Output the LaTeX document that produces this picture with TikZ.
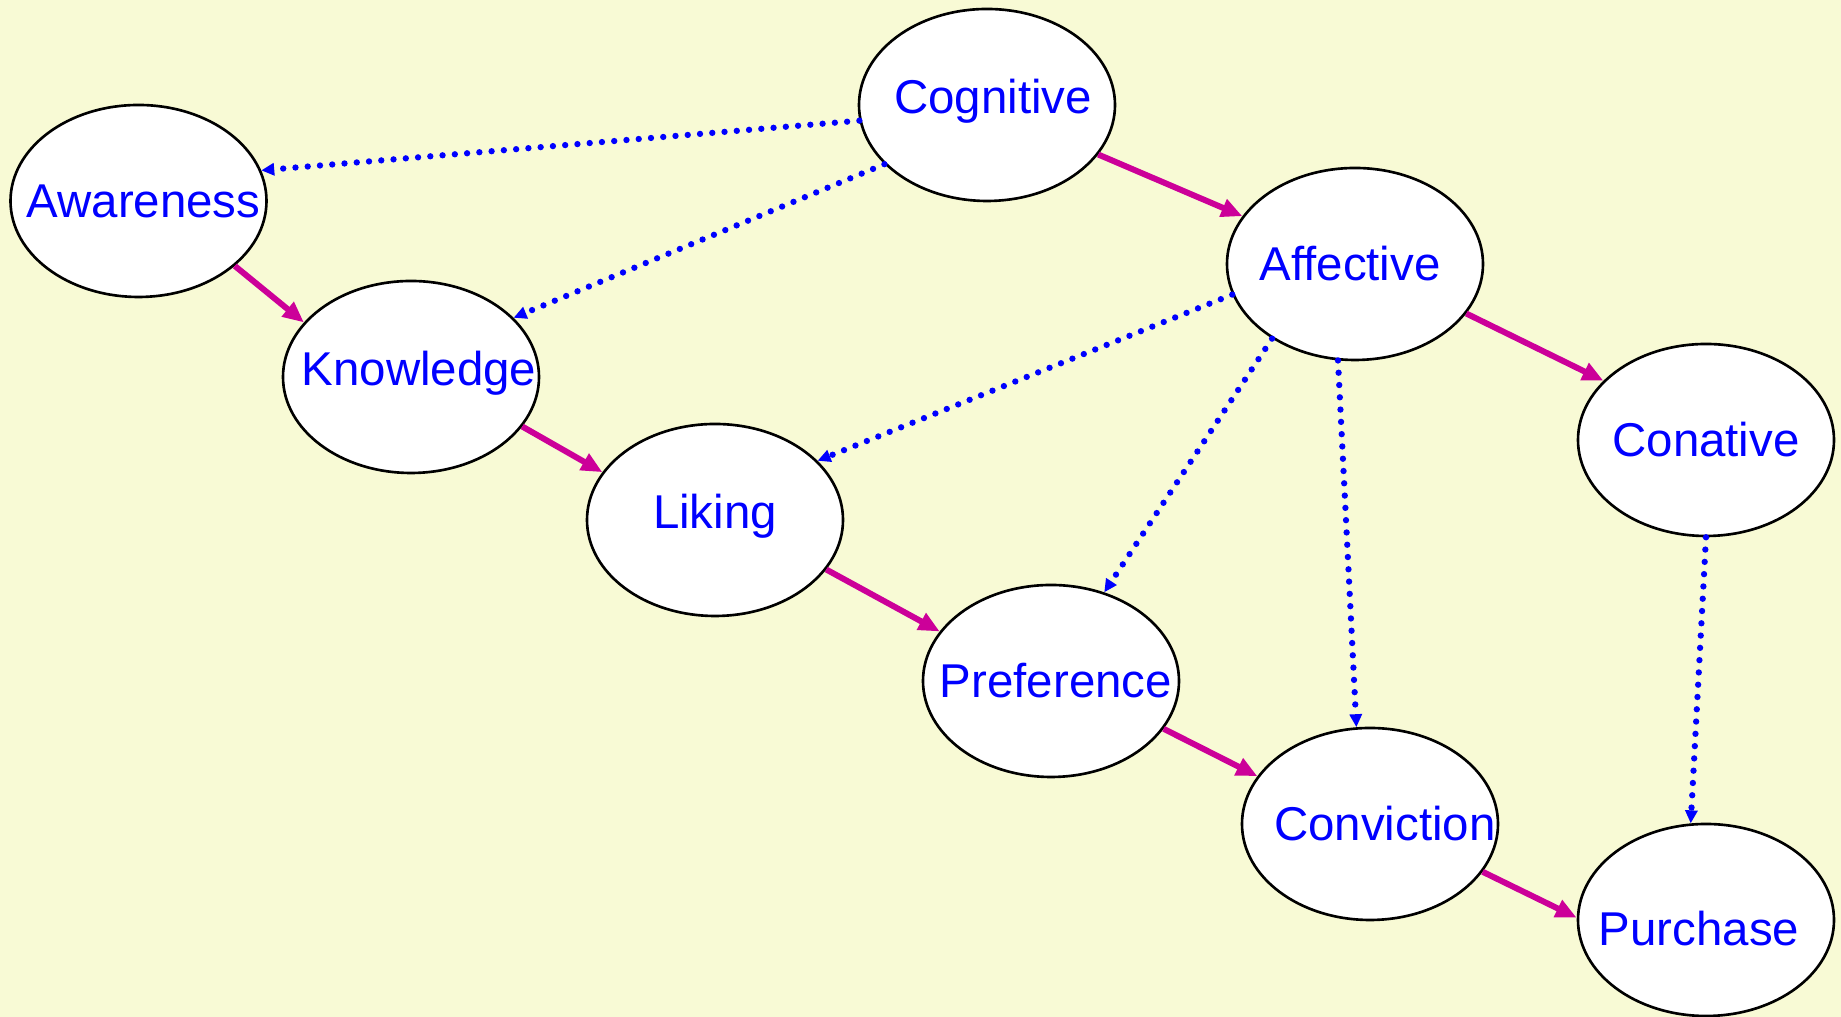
\documentclass[tikz,border=0pt]{standalone}
\usepackage{fontspec}
\setmainfont{Liberation Sans}
\usetikzlibrary{arrows.meta,shapes.geometric}
\definecolor{bg}{HTML}{F8FAD5}
\definecolor{flow}{HTML}{CC0099}
\definecolor{link}{HTML}{0000FF}
\tikzset{
  oval/.style={ellipse, draw=black, fill=white, line width=0.75pt,
    minimum width=2.56cm, minimum height=1.92cm, inner sep=0pt},
  lab/.style={text=link, font=\fontsize{13.5}{16}\selectfont, inner sep=0pt},
  flowA/.style={-{Triangle[length=0.21cm,width=0.18cm]}, line width=1.7pt, draw=flow},
  linkA/.style={-{Triangle[length=0.13cm,width=0.12cm]}, line width=1.8pt, draw=link,
    line cap=round, dash pattern=on 0pt off 3.5pt}
}
\begin{document}
\begin{tikzpicture}
  \fill[bg] (0,0) rectangle (18.41,10.17);
  \useasboundingbox (0,0) rectangle (18.41,10.17);

  \node[oval, label={[lab,xshift=0.06cm,yshift=0.035cm]center:Cognitive}] (cog) at (9.87,9.12) {};
  \node[oval, label={[lab,xshift=0.05cm]center:Awareness}] (aw) at (1.385,8.16) {};
  \node[oval, label={[lab,xshift=0.08cm,yshift=0.035cm]center:Knowledge}] (kn) at (4.11,6.40) {};
  \node[oval, label={[lab,yshift=0.035cm]center:Liking}] (li) at (7.15,4.97) {};
  \node[oval, label={[lab,xshift=-0.05cm]center:Affective}] (af) at (13.55,7.53) {};
  \node[oval, label={[lab]center:Conative}] (con) at (17.06,5.77) {};
  \node[oval, label={[lab,xshift=0.05cm]center:Preference}] (pr) at (10.51,3.36) {};
  \node[oval, label={[lab,xshift=0.15cm]center:Conviction}] (cv) at (13.70,1.93) {};
  \node[oval, label={[lab,xshift=-0.07cm,yshift=-0.09cm]center:Purchase}] (pu) at (17.06,0.97) {};

  % hierarchy steps
  \draw[flowA] (aw.326) -- (kn.153);
  \draw[flowA] (kn.336) -- (li.157);
  \draw[flowA] (li.336) -- (pr.156);
  \draw[flowA] (pr.337) -- (cv.157);
  \draw[flowA] (cv.337) -- (pu.179);
  \draw[flowA] (cog.336) -- (af.157);
  \draw[flowA] (af.336) -- (con.150);

  % stage groupings
  \draw[linkA] (cog.187) -- (aw.14);
  \draw[linkA] (cog.210) -- (kn.30);
  \draw[linkA] (af.194) -- (li.30);
  \draw[linkA] (af.222) -- (pr.59);
  \draw[linkA] (af.260) -- (cv.98);
  \draw[linkA] (con.270) -- (pu.99);
\end{tikzpicture}
\end{document}
